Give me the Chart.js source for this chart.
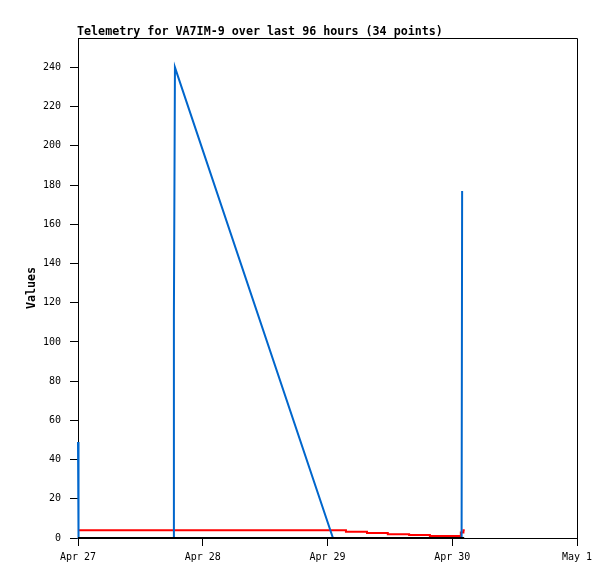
<!DOCTYPE html>
<html>
<head>
<meta charset="utf-8">
<title>Telemetry for VA7IM-9</title>
<script src="https://cdn.jsdelivr.net/npm/chart.js@4/dist/chart.umd.min.js"></script>
<style>
    html, body { margin: 0; padding: 0; background: #fff; }
    canvas { display: block; }
</style>
</head>
<body>
<canvas id="telemetryChart" width="615" height="579"></canvas>
<script>
// x values are hours since Apr 27 00:00
const dayLabels = ['Apr 27', 'Apr 28', 'Apr 29', 'Apr 30', 'May 1'];

const blueHours = [0, 0.1, 18.4, 18.45, 18.65, 49.05, 73.8, 73.9];
const blueValues = [49, 0, 0, 113, 240, 0, 0, 177];

const redHours = [0, 51.55, 55.6, 59.6, 63.7, 67.7, 73.65, 74.15, 74.4];
const redValues = [3.9, 3.2, 2.6, 1.9, 1.5, 1.0, 2.8, 4.0, 4.0];

const blackHours = [0, 74.3];
const blackValues = [0, 0];

const titleText = 'Telemetry for VA7IM-9 over last 96 hours (34 points)';
const monoFont = '"DejaVu Sans Mono", "Liberation Mono", monospace';

function toPoints(hours, values) {
    return hours.map((h, i) => ({ x: h, y: values[i] }));
}

// Frame (top/right edges) and the left-aligned title
const frameAndTitle = {
    id: 'frameAndTitle',
    beforeDatasetsDraw(chart) {
        const { ctx, chartArea } = chart;
        ctx.save();
        ctx.strokeStyle = '#000';
        ctx.lineWidth = 1;
        ctx.beginPath();
        ctx.moveTo(chartArea.left, chartArea.top + 0.5);
        ctx.lineTo(chartArea.right + 0.5, chartArea.top + 0.5);
        ctx.lineTo(chartArea.right + 0.5, chartArea.bottom);
        ctx.stroke();
        ctx.restore();
    },
    afterDraw(chart) {
        const { ctx, chartArea } = chart;
        ctx.save();
        ctx.fillStyle = '#000';
        ctx.font = 'bold 11.7px ' + monoFont;
        ctx.textAlign = 'left';
        ctx.textBaseline = 'alphabetic';
        ctx.fillText(titleText, chartArea.left - 1, 35);
        ctx.restore();
    }
};

const ctx = document.getElementById('telemetryChart').getContext('2d');

new Chart(ctx, {
    type: 'line',
    data: {
        datasets: [
            {
                label: 'black',
                data: toPoints(blackHours, blackValues),
                borderColor: '#000000',
                borderWidth: 2,
                pointRadius: 0,
                clip: 3,
                order: 0
            },
            {
                label: 'blue',
                data: toPoints(blueHours, blueValues),
                borderColor: 'rgb(0, 102, 204)',
                borderWidth: 2,
                pointRadius: 0,
                clip: 3,
                order: 1
            },
            {
                label: 'red',
                data: toPoints(redHours, redValues),
                borderColor: '#ff0000',
                borderWidth: 2,
                pointRadius: 0,
                stepped: true,
                order: 2
            }
        ]
    },
    options: {
        responsive: false,
        animation: false,
        layout: { padding: { top: 38, right: 38, bottom: 0, left: 0 } },
        plugins: {
            legend: { display: false },
            tooltip: { enabled: false },
            title: { display: false }
        },
        scales: {
            x: {
                type: 'linear',
                min: 0,
                max: 96,
                afterFit: scale => { scale.height = 41; },
                ticks: {
                    stepSize: 24,
                    autoSkip: false,
                    maxRotation: 0,
                    padding: 5,
                    color: '#000',
                    font: { family: monoFont, size: 10 },
                    callback: value => dayLabels[value / 24]
                },
                grid: { drawOnChartArea: false, tickLength: 8, color: '#000' },
                border: { color: '#000', width: 1 }
            },
            y: {
                min: 0,
                max: 255,
                afterFit: scale => { scale.width = 78; },
                afterBuildTicks: scale => {
                    scale.ticks = scale.ticks.filter(t => t.value % 20 === 0);
                },
                ticks: {
                    stepSize: 20,
                    padding: 9,
                    color: '#000',
                    font: { family: monoFont, size: 10 }
                },
                grid: { drawOnChartArea: false, tickLength: 8, color: '#000' },
                border: { color: '#000', width: 1 },
                title: {
                    display: true,
                    text: 'Values',
                    color: '#000',
                    font: { family: monoFont, size: 11.7, weight: 'bold' },
                    padding: { top: 25, bottom: 0 }
                }
            }
        }
    },
    plugins: [frameAndTitle]
});
</script>
</body>
</html>
